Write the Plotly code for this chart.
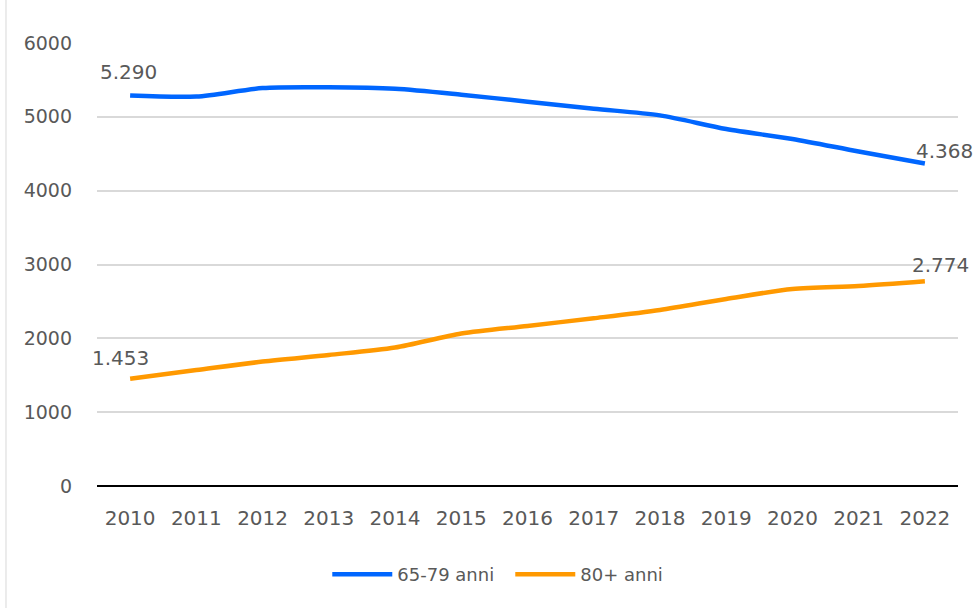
import plotly.graph_objects as go

years = ["2010", "2011", "2012", "2013", "2014", "2015", "2016",
         "2017", "2018", "2019", "2020", "2021", "2022"]
anni_65_79 = [5290, 5275, 5390, 5400, 5380, 5300, 5205, 5110, 5020, 4835, 4700, 4530, 4368]
anni_80 = [1453, 1570, 1685, 1775, 1875, 2065, 2168, 2272, 2385, 2534, 2668, 2710, 2774]
y_ticks = [0, 1000, 2000, 3000, 4000, 5000, 6000]

BLUE = "#0066FF"
ORANGE = "#FF9900"
TXT = "#595959"
FONT = "DejaVu Sans, sans-serif"

def it_fmt(v):
    return f"{v:,}".replace(",", ".")

fig = go.Figure()
fig.add_trace(go.Scatter(x=years, y=anni_65_79, name="65-79 anni", mode="lines",
                         line=dict(color=BLUE, width=4.5, shape="spline", smoothing=0.8)))
fig.add_trace(go.Scatter(x=years, y=anni_80, name="80+ anni", mode="lines",
                         line=dict(color=ORANGE, width=4.5, shape="spline", smoothing=0.8)))

lab_font = dict(family=FONT, size=20, color=TXT)
first, last = 0, len(years) - 1  # category indices
fig.add_annotation(x=first, y=anni_65_79[first], text=it_fmt(anni_65_79[first]), showarrow=False,
                   xshift=-2, yshift=23, font=lab_font)
fig.add_annotation(x=last, y=anni_65_79[last], text=it_fmt(anni_65_79[last]), showarrow=False,
                   xanchor="right", xshift=50, yshift=13, font=lab_font)
fig.add_annotation(x=first, y=anni_80[first], text=it_fmt(anni_80[first]), showarrow=False,
                   xshift=-10, yshift=21, font=lab_font)
fig.add_annotation(x=last, y=anni_80[last], text=it_fmt(anni_80[last]), showarrow=False,
                   xshift=16, yshift=16, font=lab_font)

# chart border (left edge)
fig.add_shape(type="line", xref="paper", yref="paper", x0=-0.1057, x1=-0.1057, y0=-0.28, y1=1.1,
              line=dict(color="#d9d9d9", width=1))

fig.update_layout(
    width=975, height=608,
    margin=dict(l=97, r=17, t=43, b=122, autoexpand=False),
    paper_bgcolor="white", plot_bgcolor="white",
    font=dict(family=FONT, size=18, color=TXT),
    showlegend=True,
    legend=dict(orientation="h", x=0.48, xanchor="center", y=-0.2, yanchor="middle",
                itemwidth=60, entrywidth=108, entrywidthmode="pixels",
                font=dict(family=FONT, size=18, color=TXT)),
)
fig.update_xaxes(type="category", range=[-0.5, 12.5], showgrid=False, showline=False,
                 ticks="", ticklabelstandoff=18, tickfont=dict(family=FONT, size=20, color=TXT))
fig.update_yaxes(range=[0, 6000], tickvals=y_ticks, showgrid=True, gridcolor="#d9d9d9",
                 gridwidth=2, zeroline=True, zerolinecolor="#000000", zerolinewidth=2,
                 showline=False, ticks="", ticklabelstandoff=24,
                 tickfont=dict(family=FONT, size=19, color=TXT))

fig.write_html("out.html", config={"displayModeBar": False},
               post_script="document.body.style.margin='0';document.body.style.overflow='hidden';")
